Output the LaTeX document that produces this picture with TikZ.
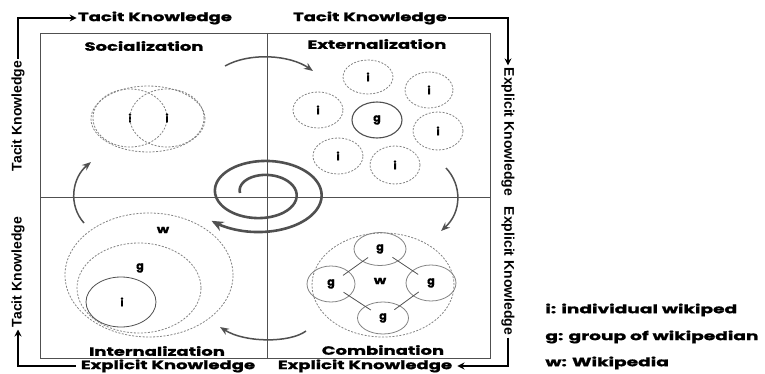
\documentclass[tikz,border=0pt]{standalone}
\usepackage{fontspec}
\setmainfont{Poppins}
\newfontfamily\heavyfont{Poppins}[FakeBold=1]
\newfontfamily\narrowfont{Liberation Sans}
\usetikzlibrary{arrows,arrows.meta,shapes,calc}
\definecolor{gray10}{RGB}{80, 80, 80}
\definecolor{gray20}{RGB}{130, 130, 130}
\newcommand{\wide}[2][1.5]{\scalebox{#1}[1]{#2}}

\tikzset{
  title/.style={font=\heavyfont\bfseries\fontsize{12}{14}\selectfont, inner sep=1pt},
  side/.style={font=\narrowfont\bfseries\fontsize{14}{16}\selectfont, inner sep=2pt},
  kflow/.style={line width=2.2pt, -{Stealth[length=7pt,width=7pt]}},
  turn/.style={line width=1.5pt, draw=gray10, -{Stealth[length=9pt,width=7pt]}},
  frame/.style={draw=gray10, line width=0.8pt},
  dashring/.style={draw=gray20, dash pattern=on 2pt off 1.5pt, line width=0.8pt},
  ring/.style={draw=gray20, line width=0.8pt},
  who/.style={font=\heavyfont\bfseries\fontsize{11}{12}\selectfont, inner sep=0pt},
  legend/.style={font=\heavyfont\bfseries\fontsize{12}{14}\selectfont, anchor=west, inner sep=0pt}
}

\begin{document}
\begin{tikzpicture}[x=1pt, y=-1pt, thick]
  \useasboundingbox (0,0) rectangle (765,374);

  % quadrants
  \draw[frame] (40,33) rectangle (490,358);
  \draw[frame] (267,33) -- (267,358);
  \draw[frame] (40,197) -- (490,197);

  \node[title] (soc) at (144,46) {\wide{Socialization}};
  \node[title] (ext) at (377,44) {\wide{Externalization}};
  \node[title] (int) at (157,351) {\wide{Internalization}};
  \node[title] (com) at (383,350) {\wide{Combination}};

  % knowledge labels round the frame
  \node[title] (tk1) at (155,18) {\wide[1.5]{Tacit Knowledge}};
  \node[title] (tk2) at (370,18) {\wide[1.5]{Tacit Knowledge}};
  \node[side, rotate=90] (tk0) at (18,116) {Tacit Knowledge};
  \node[side, rotate=90] (tk3) at (18,272) {Tacit Knowledge};
  \node[side, rotate=-90] (ek1) at (508,132) {Explicit Knowledge};
  \node[side, rotate=-90] (ek2) at (508,271) {Explicit Knowledge};
  \node[title] (ek3) at (168,366) {\wide{Explicit Knowledge}};
  \node[title] (ek4) at (365,366) {\wide{Explicit Knowledge}};

  \coordinate (c3) at (514,366);
  \coordinate (c4) at (14,366);
  \draw[kflow] (tk0.east) |- (tk1.west);
  \draw[kflow] (tk2.east) -| (ek1.west);
  \draw[kflow] (ek2.east) |- ($(ek4.east |- c3)+(4,0)$);
  \draw[kflow] ($(ek3.west |- c4)-(4,0)$) -| (tk3.west);

  % socialization
  \draw[dashring] (148,119) ellipse (57pt and 33pt);
  \node[dashring, ellipse, minimum width=74, minimum height=58, who] (s1) at (130,118) {i};
  \node[dashring, ellipse, minimum width=74, minimum height=58, who] (s2) at (167,118) {i};

  % externalization
  \node[ring, draw=gray10, line width=1.1pt, ellipse, minimum width=50, minimum height=36, who] (xg) at (377,120) {g};
  \node[dashring, ellipse, minimum width=50, minimum height=34, who] (x1) at (368,77) {i};
  \node[dashring, ellipse, minimum width=48, minimum height=36, who] (x2) at (429,90) {i};
  \node[dashring, ellipse, minimum width=50, minimum height=36, who] (x3) at (318,110) {i};
  \node[dashring, ellipse, minimum width=50, minimum height=38, who] (x4) at (438,131) {i};
  \node[dashring, ellipse, minimum width=50, minimum height=36, who] (x5) at (338,156) {i};
  \node[dashring, ellipse, minimum width=50, minimum height=38, who] (x6) at (395,165) {i};

  % combination
  \draw[dashring] (383,285) ellipse (71pt and 52pt);
  \node[who] (cw) at (380,281) {\wide[1.3]{w}};
  \node[ring, ellipse, minimum width=52, minimum height=33, who] (cg1) at (380,249) {g};
  \node[ring, ellipse, minimum width=48, minimum height=36, who] (cg2) at (331,284) {g};
  \node[ring, ellipse, minimum width=50, minimum height=36, who] (cg3) at (431,283) {g};
  \node[ring, ellipse, minimum width=51, minimum height=32, who] (cg4) at (383,318) {g};
  \draw[ring, draw=gray10, shorten <=-7pt, shorten >=-7pt] (cg2) -- (cg1);
  \draw[ring, draw=gray10, shorten <=-7pt, shorten >=-7pt] (cg1) -- (cg3);
  \draw[ring, draw=gray10, shorten <=-7pt, shorten >=-7pt] (cg2) -- (cg4);
  \draw[ring, draw=gray10, shorten <=-7pt, shorten >=-7pt] (cg3) -- (cg4);

  % internalization
  \draw[dashring] (149,275) ellipse (84pt and 62pt);
  \draw[dashring] (139,288) ellipse (62pt and 45pt);
  \draw[ring, draw=gray10] (121,302) ellipse (35pt and 25pt);
  \node[who] (iw) at (163,230) {\wide[1.3]{w}};
  \node[who] (ig) at (140,268) {g};
  \node[who] (ii) at (122,302) {i};

  % spiral
  \draw[line width=2.6pt, draw=gray10, -{Stealth[length=12pt,width=10pt]}]
    plot[smooth, domain=180:-497, samples=90]
    ({262+(22+25*((180-\x)/360))*cos(\x)}, {193-(18+14*((90-\x)/360))*sin(\x)});

  % cycle
  \coordinate (cs1) at (225,66);  \coordinate (ce1) at (313,71);
  \coordinate (cs2) at (446,168); \coordinate (ce2) at (441,231);
  \coordinate (cs3) at (306,331); \coordinate (ce3) at (220,327);
  \coordinate (cs4) at (84,223);  \coordinate (ce4) at (91,162);
  \draw[turn] (cs1) .. controls (250,52) and (290,55) .. (ce1);
  \draw[turn] (cs2) .. controls (462,185) and (462,212) .. (ce2);
  \draw[turn] (cs3) .. controls (290,343) and (245,343) .. (ce3);
  \draw[turn] (cs4) .. controls (68,205) and (72,178) .. (ce4);

  % legend
  \node[legend] (li) at (545,310) {\wide[1.55]{i: individual wikiped}};
  \node[legend] (lg) at (545,337) {\wide[1.55]{g: group of wikipedian}};
  \node[legend] (lw) at (545,363) {\wide[1.55]{w: Wikipedia}};
\end{tikzpicture}
\end{document}
